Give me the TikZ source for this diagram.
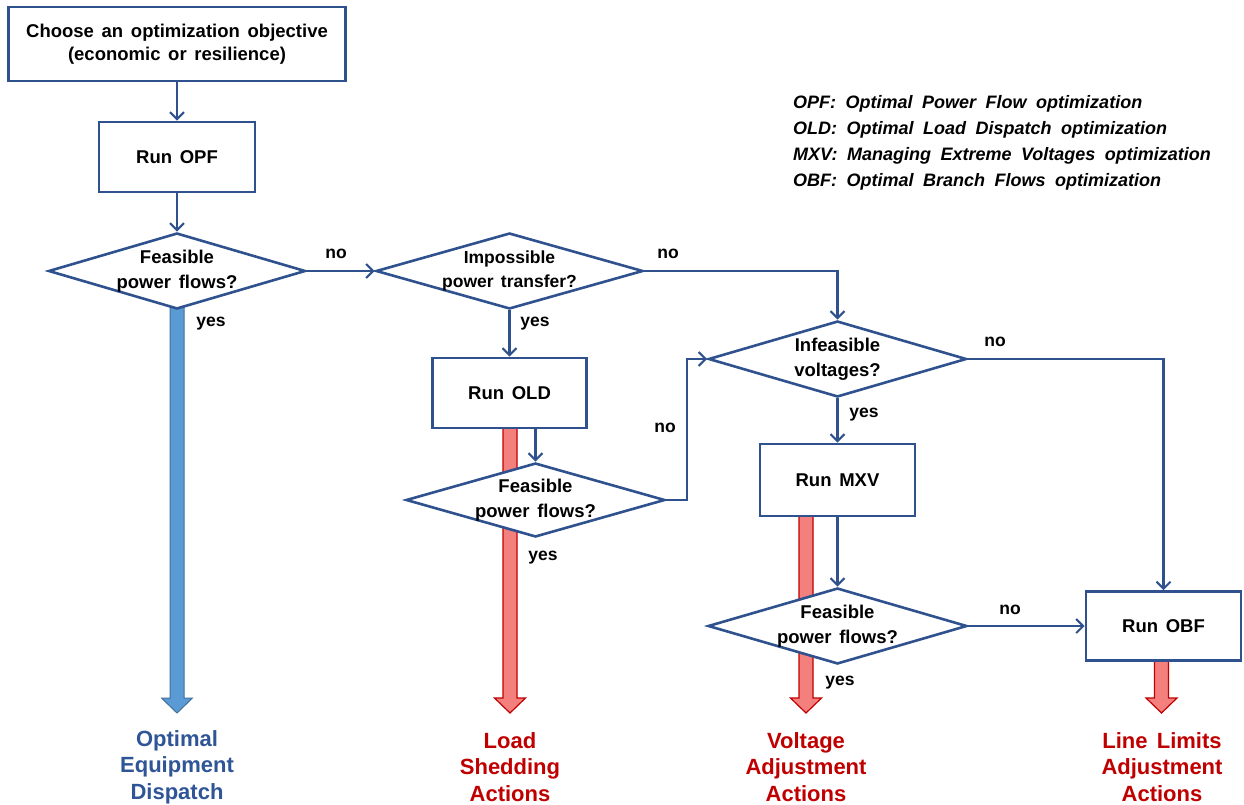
\documentclass[tikz,border=0pt]{standalone}
\usepackage{fontspec}
\setmainfont[WordSpace=1.5]{Liberation Sans}
\newfontfamily\legfont[WordSpace=1.9]{Liberation Sans}
\usetikzlibrary{shapes.geometric,arrows.meta,backgrounds,calc}
\definecolor{lineblue}{RGB}{47,82,143}
\definecolor{txtblue}{RGB}{47,85,151}
\definecolor{txtred}{RGB}{192,0,0}
\definecolor{arrblue}{RGB}{91,155,213}
\definecolor{arrblueedge}{RGB}{65,113,156}
\definecolor{arrred}{RGB}{244,128,126}
\definecolor{arrrededge}{RGB}{192,0,0}
\newcommand\fatarrow[4]{%
  \filldraw[#4] (#1-7,#2) -- (#1+7,#2) -- (#1+7,#3-15) -- (#1+15.5,#3-15) -- (#1,#3) -- (#1-15.5,#3-15) -- (#1-7,#3-15) -- cycle;}
\begin{document}
\begin{tikzpicture}[x=1pt,y=-1pt,
  box/.style={draw=lineblue, line width=2.6pt, fill=white, align=center, inner sep=0pt,
    font=\fontsize{18.5}{23}\selectfont\bfseries},
  dia/.style={diamond, draw=lineblue, line width=2.6pt, fill=white, inner sep=-20pt, align=center,
    font=\fontsize{18.5}{25}\selectfont\bfseries},
  conn/.style={draw=lineblue, line width=2.1pt, -{Straight Barb[length=7pt,width=14pt]}},
  lbl/.style={font=\fontsize{17.5}{20}\selectfont\bfseries, inner sep=0pt},
  outblue/.style={font=\fontsize{22}{26.5}\selectfont\bfseries, text=txtblue, align=center, inner sep=0pt},
  outred/.style={font=\fontsize{22}{26.5}\selectfont\bfseries, text=txtred, align=center, inner sep=0pt},
  bluefat/.style={fill=arrblue, draw=arrblueedge, line width=1pt},
  redfat/.style={fill=arrred, draw=arrrededge, line width=1.2pt}]
\useasboundingbox (0,0) rectangle (1244,805);

% boxes
\node[box, minimum width=337pt, minimum height=74pt] (obj) at (177,44) {Choose an optimization objective\\(economic or resilience)};
\node[box, minimum width=156pt, minimum height=70pt] (opf) at (177,157) {Run OPF};
\node[box, minimum width=154pt, minimum height=70pt] (old) at (509.5,393) {Run OLD};
\node[box, minimum width=155pt, minimum height=72pt] (mxv) at (837.5,480) {Run MXV};
\node[box, minimum width=155pt, minimum height=69pt] (obf) at (1163.5,626) {Run OBF};

% diamonds
\node[dia, minimum width=257pt, minimum height=76pt, aspect=3.38] (d1) at (177,271) {Feasible\\power flows?};
\node[dia, minimum width=267pt, minimum height=76pt, aspect=3.5, font=\fontsize{17.5}{24}\selectfont\bfseries] (d2) at (509.5,271) {Impossible\\power transfer?};
\node[dia, minimum width=258pt, minimum height=76pt, aspect=3.4] (d3) at (837.5,359) {Infeasible\\voltages?};
\node[dia, minimum width=259pt, minimum height=74pt, aspect=3.5] (d4) at (535.5,500) {Feasible\\power flows?};
\node[dia, minimum width=259pt, minimum height=76pt, aspect=3.4] (d5) at (837.5,626) {Feasible\\power flows?};

% fat arrows behind
\begin{scope}[on background layer]
\fatarrow{177}{300}{713}{bluefat}
\fatarrow{510}{428}{713}{redfat}
\fatarrow{806}{516}{713}{redfat}
\fatarrow{1161.5}{661}{713}{redfat}
\end{scope}

% connectors
\draw[conn] (obj.south) -- (opf.north);
\draw[conn] (opf.south) -- (d1.north);
\draw[conn] (d1.east) -- (d2.west);
\draw[conn] (d2.east) -| (d3.north);
\draw[conn] (d2.south) -- (old.north);
\draw[conn] (d4.north |- old.south) -- (d4.north);
\draw[conn] (d4.east) -- ($(d4.east)+(21,0)$) |- (d3.west);
\draw[conn] (d3.south) -- (mxv.north);
\draw[conn] (d3.east) -| (obf.north);
\draw[conn] (mxv.south) -- (d5.north);
\draw[conn] (d5.east) -- (obf.west);

% yes / no labels
\node[lbl] (n1) at (336,254) {no};
\node[lbl] (y1) at (211,324) {yes};
\node[lbl] (n2) at (668,254) {no};
\node[lbl] (y2) at (535,324) {yes};
\node[lbl] (n3) at (995,342) {no};
\node[lbl] (n4) at (665,428) {no};
\node[lbl] (y3) at (864,415) {yes};
\node[lbl] (y4) at (543,558) {yes};
\node[lbl] (n5) at (1010,610) {no};
\node[lbl] (y5) at (840,683) {yes};

% outcome labels
\node[outblue] (oA) at (177,767) {Optimal\\Equipment\\Dispatch};
\node[outred] (oB) at (510,767) {Load\\Shedding\\Actions};
\node[outred] (oC) at (806,767) {Voltage\\Adjustment\\Actions};
\node[outred] (oD) at (1162,767) {Line Limits\\Adjustment\\Actions};

% legend
\node[anchor=north west, align=left, inner sep=0pt, font=\legfont\fontsize{18}{26}\selectfont\bfseries\itshape] (leg) at (793,95)
 {OPF: Optimal Power Flow optimization\\
  OLD: Optimal Load Dispatch optimization\\
  MXV: Managing Extreme Voltages optimization\\
  OBF: Optimal Branch Flows optimization};
\end{tikzpicture}
\end{document}
